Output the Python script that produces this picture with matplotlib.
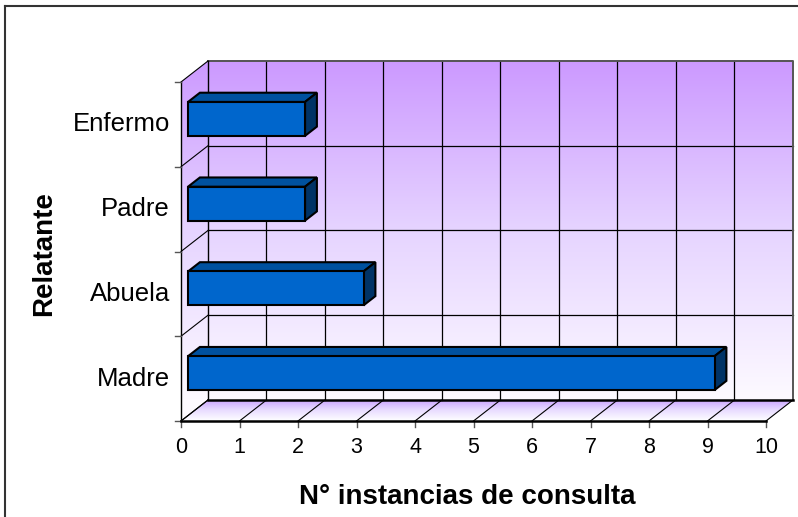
import numpy as np
import matplotlib
matplotlib.use("Agg")
import matplotlib.pyplot as plt
from matplotlib.patches import Polygon, Rectangle
from matplotlib.colors import LinearSegmentedColormap

plt.rcParams['font.family'] = ['Liberation Sans', 'DejaVu Sans']

# Data
categories = ["Madre", "Abuela", "Padre", "Enfermo"]
values = [9, 3, 2, 2]
x_ticks = list(range(0, 11))
x_label = "N° instancias de consulta"
y_label = "Relatante"

# 3D-style geometry (in data units: x = value, y = category slot)
XMAX = 10
NCAT = len(categories)
DX, DY = 0.4615, 0.248          # depth offset of the back wall
D_FRONT, D_BACK = 0.26, 0.70     # bar depth range (fraction of full depth)
BAR_H = 0.40

fig = plt.figure(figsize=(7.98, 5.17), dpi=100)
ax = fig.add_axes([0, 0, 1, 1])
ax.set_axis_off()

wall_cmap = LinearSegmentedColormap.from_list("wall", ["#fdfaff", "#e6d4ff", "#cc99ff"])
grad = np.linspace(0, 1, 256).reshape(-1, 1)

# Back wall
ax.imshow(grad, cmap=wall_cmap, origin='lower', aspect='auto',
          extent=[DX, XMAX + DX, DY, NCAT + DY], zorder=1, interpolation='bilinear')

# Left side wall (gradient clipped to parallelogram)
side = Polygon([(0, 0), (DX, DY), (DX, NCAT + DY), (0, NCAT)], closed=True,
               facecolor='none', edgecolor='none')
ax.add_patch(side)
im_side = ax.imshow(grad, cmap=wall_cmap, origin='lower', aspect='auto',
                    extent=[0, DX, DY, NCAT + DY], zorder=1, interpolation='bilinear')
im_side.set_clip_path(side)
im_side2 = ax.imshow(grad[:1], cmap=wall_cmap, origin='lower', aspect='auto',
                     extent=[0, DX, 0, DY], zorder=1, vmin=0, vmax=1)
im_side2.set_clip_path(side)

# Floor
floor_cmap = LinearSegmentedColormap.from_list("floor", ["#ffffff", "#e8dcff", "#c8a0ff"])
floor = Polygon([(0, 0), (XMAX, 0), (XMAX + DX, DY), (DX, DY)], closed=True,
                facecolor='none', edgecolor='none')
ax.add_patch(floor)
im_floor = ax.imshow(grad, cmap=floor_cmap, origin='lower', aspect='auto',
                     extent=[0, XMAX + DX, 0, DY], zorder=1, interpolation='bilinear')
im_floor.set_clip_path(floor)

# Back wall gridlines
for v in x_ticks[1:-1]:
    ax.plot([v + DX, v + DX], [DY, NCAT + DY], color='black', lw=0.9, zorder=2)
for c in range(1, NCAT):
    ax.plot([DX, XMAX + DX], [c + DY, c + DY], color='black', lw=0.9, zorder=2)
# Back wall border
ax.plot([DX, XMAX + DX, XMAX + DX], [NCAT + DY, NCAT + DY, DY],
        color='#555555', lw=1.4, zorder=2)
ax.plot([DX, DX], [DY, NCAT + DY], color='black', lw=1.0, zorder=2)

# Side wall lines
for c in range(0, NCAT + 1):
    ax.plot([0, DX], [c, c + DY], color='black', lw=0.8, zorder=2)
ax.plot([0, 0], [0, NCAT], color='black', lw=1.0, zorder=2)

# Floor lines
for v in x_ticks:
    ax.plot([v, v + DX], [0, DY], color='black', lw=0.8, zorder=2)
ax.plot([DX, XMAX + DX], [DY, DY], color='black', lw=1.8, zorder=2)
ax.plot([0, XMAX], [0, 0], color='black', lw=1.8, zorder=6)

# Axis ticks
for v in x_ticks:
    ax.plot([v, v], [0, -0.07], color='#555555', lw=1.0, zorder=2)
    ax.text(v, -0.31, str(v), ha='center', va='center', fontsize=15.5, color='black')
for c in range(0, NCAT + 1):
    ax.plot([-0.1, 0], [c, c], color='#555555', lw=1.0, zorder=2)

# Category labels
for i, name in enumerate(categories):
    ax.text(-0.19, i + 0.5, name, ha='right', va='center', fontsize=18.5, color='black')

# 3D bars
front_col, top_col, side_col = '#0066cc', '#00519f', '#003366'
fx, fy = D_FRONT * DX, D_FRONT * DY
bx, by = D_BACK * DX, D_BACK * DY
for i, val in enumerate(values):
    y0 = i + 0.5 - BAR_H / 2
    y1 = y0 + BAR_H
    top = Polygon([(fx, y1 + fy), (val + fx, y1 + fy), (val + bx, y1 + by), (bx, y1 + by)],
                  closed=True, facecolor=top_col, edgecolor='black', lw=1.5,
                  joinstyle='miter', zorder=4)
    rside = Polygon([(val + fx, y0 + fy), (val + bx, y0 + by), (val + bx, y1 + by), (val + fx, y1 + fy)],
                    closed=True, facecolor=side_col, edgecolor='black', lw=1.5,
                    joinstyle='miter', zorder=4)
    front = Rectangle((fx, y0 + fy), val, BAR_H, facecolor=front_col,
                      edgecolor='black', lw=1.5, joinstyle='miter', zorder=5)
    ax.add_patch(top)
    ax.add_patch(rside)
    ax.add_patch(front)

# Axis titles
ax.text(4.9, -0.90, x_label, ha='center', va='center', fontsize=20,
        fontweight='bold', color='black')
ax.text(-2.34, 1.98, y_label, ha='center', va='center', fontsize=20,
        fontweight='bold', rotation=90, color='black')

# Chart frame
fx0, fy0 = -3.009, 4.897
ax.plot([fx0, fx0], [-2, fy0], color='#333333', lw=1.5, zorder=7, clip_on=False)
ax.plot([fx0, 12], [fy0, fy0], color='#333333', lw=1.5, zorder=7, clip_on=False)

ax.set_xlim((0 - 181) / 58.5, (798 - 181) / 58.5)
ax.set_ylim((421 - 517) / 84.75, 421 / 84.75)

fig.savefig("out.png", dpi=100)
